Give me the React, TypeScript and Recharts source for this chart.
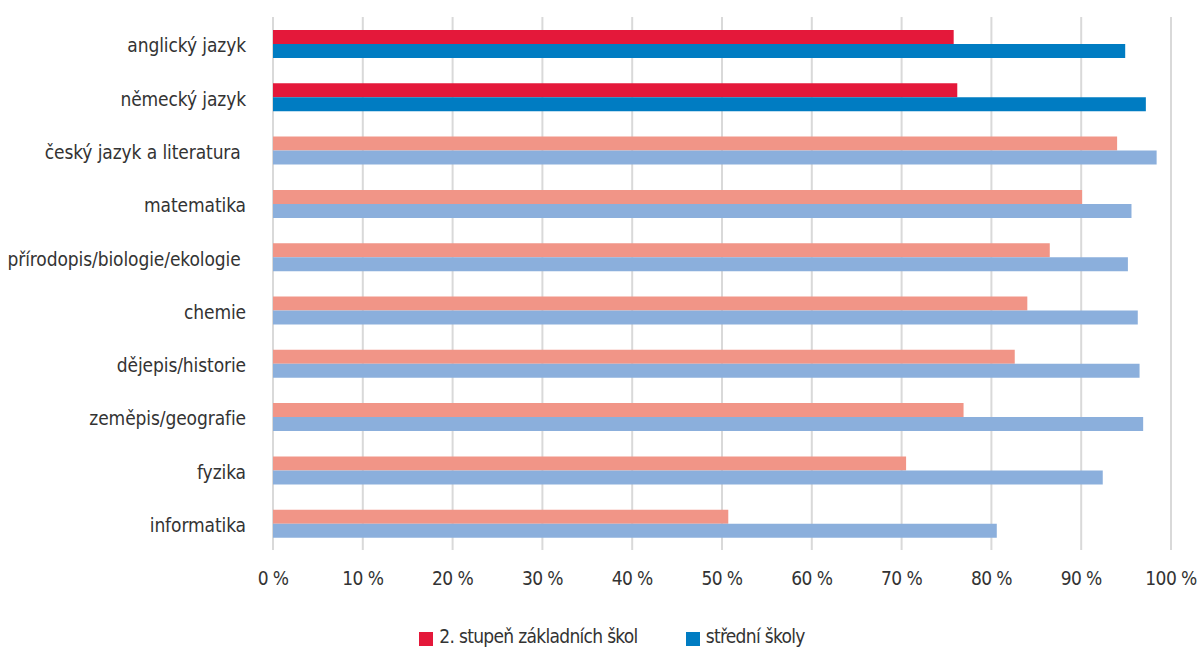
import { BarChart, Bar, XAxis, YAxis, CartesianGrid, Legend, Cell } from "recharts";

// subjects, top to bottom
const categories = [
  "anglický jazyk",
  "německý jazyk",
  "český jazyk a literatura\u00a0",
  "matematika",
  "přírodopis/biologie/ekologie\u00a0",
  "chemie",
  "dějepis/historie",
  "zeměpis/geografie",
  "fyzika",
  "informatika",
];

// share in %
const zsValues = [75.8, 76.2, 94.0, 90.1, 86.5, 84.0, 82.6, 76.9, 70.5, 50.7];
const ssValues = [94.9, 97.2, 98.4, 95.6, 95.2, 96.3, 96.5, 96.9, 92.4, 80.6];

const xTicks = [0, 10, 20, 30, 40, 50, 60, 70, 80, 90, 100];

const seriesNames = ["2. stupeň základních škol", "střední školy"];

// first two rows (languages) are drawn in the strong colours
const highlighted = 2;
const colors = {
  zs: { strong: "#E4183A", light: "#F19587" },
  ss: { strong: "#007CC2", light: "#8BAFDC" },
};

const FONT = "'DejaVu Sans Condensed', 'Liberation Sans Narrow', sans-serif";

const data = categories.map((name, i) => ({
  name,
  zs: zsValues[i],
  ss: ssValues[i],
}));

const renderLegend = () => (
  <div
    style={{
      height: 40,
      boxSizing: "border-box",
      paddingTop: 12,
      paddingLeft: 26,
      display: "flex",
      justifyContent: "center",
      alignItems: "center",
      fontFamily: FONT,
      fontSize: 19,
      letterSpacing: -0.7,
      color: "#333",
    }}
  >
    {[colors.zs.strong, colors.ss.strong].map((c, i) => (
      <div key={i} style={{ display: "flex", alignItems: "center", marginLeft: i ? 48 : 0 }}>
        <span style={{ width: 14, height: 14, background: c, marginRight: 6, marginTop: 6 }} />
        <span>{seriesNames[i]}</span>
      </div>
    ))}
  </div>
);

export default function App() {
  return (
    <div style={{ position: "absolute", left: 0, top: 0, background: "#fff" }}>
      <BarChart
        width={1198}
        height={650}
        data={data}
        layout="vertical"
        margin={{ top: 17, right: 27, bottom: 0, left: 0 }}
        barGap={0}
        barSize={14}
      >
        <CartesianGrid horizontal={false} stroke="#D9D9D9" strokeWidth={2} />
        <XAxis
          type="number"
          domain={[0, 100]}
          ticks={xTicks}
          tickFormatter={(v) => `${v} %`}
          axisLine={false}
          tickLine={false}
          tickMargin={16}
          height={60}
          tick={{ fill: "#333", fontSize: 19, fontFamily: FONT, letterSpacing: -0.6 }}
          interval={0}
        />
        <YAxis
          type="category"
          dataKey="name"
          width={273}
          axisLine={false}
          tickLine={false}
          tickMargin={21}
          tick={{ fill: "#333", fontSize: 19, fontFamily: FONT, letterSpacing: -0.1, dy: 2 }}
          interval={0}
        />
        <Legend verticalAlign="bottom" content={renderLegend} wrapperStyle={{ left: 0, width: 1198 }} />
        <Bar dataKey="zs" name={seriesNames[0]} isAnimationActive={false}>
          {data.map((_, i) => (
            <Cell key={i} fill={i < highlighted ? colors.zs.strong : colors.zs.light} />
          ))}
        </Bar>
        <Bar dataKey="ss" name={seriesNames[1]} isAnimationActive={false}>
          {data.map((_, i) => (
            <Cell key={i} fill={i < highlighted ? colors.ss.strong : colors.ss.light} />
          ))}
        </Bar>
      </BarChart>
    </div>
  );
}
